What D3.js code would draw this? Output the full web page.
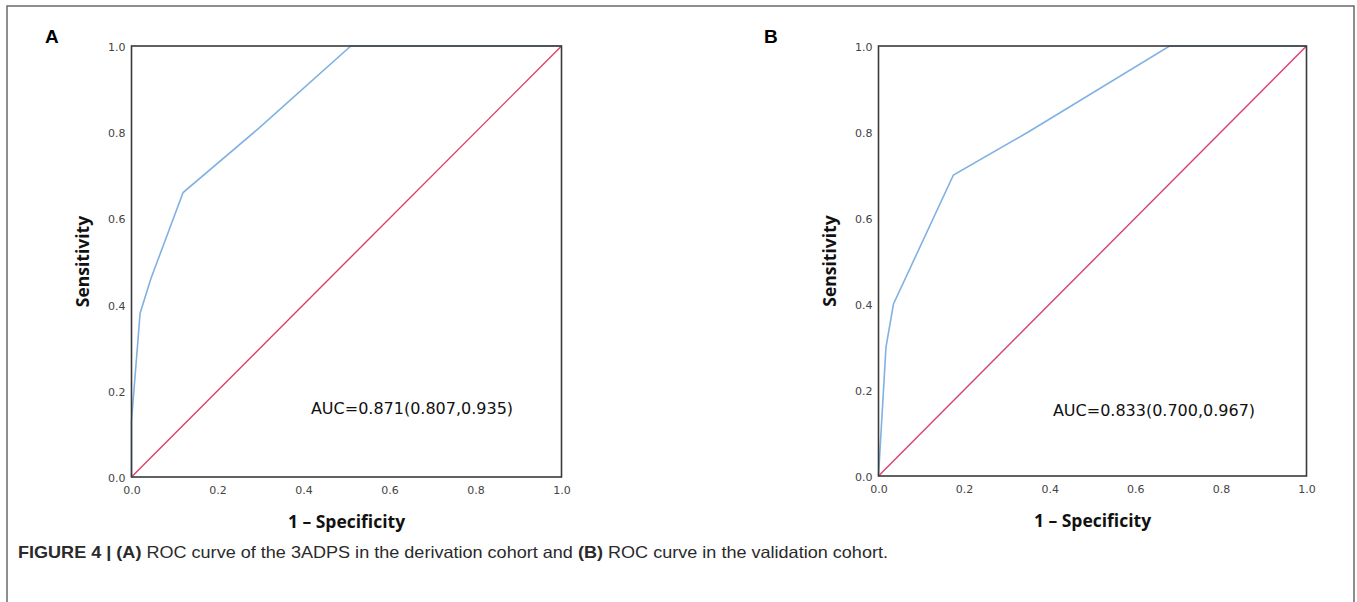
<!DOCTYPE html>
<html>
<head>
<meta charset="utf-8">
<script src="https://cdn.jsdelivr.net/npm/d3@7"></script>
<style>
  body { margin: 0; background: #fff; }
  svg { display: block; }
</style>
</head>
<body>
<svg id="chart"></svg>
<script>
// ROC points: [1 - specificity, sensitivity]
const rocA = [[0, 0], [0, 0.13], [0.02, 0.38], [0.045, 0.46], [0.12, 0.66], [0.297, 0.81], [0.51, 1.0], [1, 1]];
const rocB = [[0, 0], [0.0175, 0.3], [0.035, 0.4], [0.175, 0.7], [0.35, 0.8], [0.68, 1.0], [1, 1]];
const reference = [[0, 0], [1, 1]];
const ticks = [0, 0.2, 0.4, 0.6, 0.8, 1.0];
const aucLabels = ["AUC=0.871(0.807,0.935)", "AUC=0.833(0.700,0.967)"];
const panelLetters = ["A", "B"];

const width = 1357;
const height = 602;

const svg = d3.select("#chart").attr("width", width).attr("height", height);

// figure frame
svg.append("rect")
  .attr("x", 7).attr("y", 6)
  .attr("width", 1347).attr("height", 610)
  .attr("fill", "none")
  .attr("stroke", "#6a6a6a")
  .attr("stroke-width", 1.5);

const panels = [
  { left: 131.5, top: 46, w: 430, h: 431, data: rocA, auc: aucLabels[0], aucX: 412, aucY: 414, letterX: 45 },
  { left: 878.5, top: 46, w: 428, h: 430, data: rocB, auc: aucLabels[1], aucX: 1154, aucY: 416, letterX: 764 }
];

panels.forEach((p, i) => {
  const x = d3.scaleLinear().domain([0, 1]).range([0, p.w]);
  const y = d3.scaleLinear().domain([0, 1]).range([p.h, 0]);
  const g = svg.append("g").attr("transform", `translate(${p.left},${p.top})`);

  const line = d3.line().x((d) => x(d[0])).y((d) => y(d[1]));

  // reference diagonal
  g.append("path")
    .datum(reference)
    .attr("d", line)
    .attr("fill", "none")
    .attr("stroke", "#d8406a")
    .attr("stroke-width", 1.4);

  // ROC curve
  g.append("path")
    .datum(p.data)
    .attr("d", line)
    .attr("fill", "none")
    .attr("stroke", "#80b1e2")
    .attr("stroke-width", 1.6);

  // plot box
  g.append("rect")
    .attr("width", p.w).attr("height", p.h)
    .attr("fill", "none")
    .attr("stroke", "#3a3a3a")
    .attr("stroke-width", 1.6);

  const fmt = d3.format(".1f");
  const xAxis = g.append("g")
    .attr("transform", `translate(0,${p.h})`)
    .call(d3.axisBottom(x).tickValues(ticks).tickFormat(fmt).tickSize(0).tickPadding(9));
  const yAxis = g.append("g")
    .call(d3.axisLeft(y).tickValues(ticks).tickFormat(fmt).tickSize(0).tickPadding(6));
  [xAxis, yAxis].forEach((a) => {
    a.select(".domain").remove();
    a.selectAll("text")
      .attr("fill", "#444")
      .style("font-family", "DejaVu Sans")
      .style("font-size", "11px");
  });
  yAxis.selectAll("text").attr("dy", "0.4em");

  // axis titles
  g.append("text")
    .attr("x", p.w / 2)
    .attr("y", p.h + 51)
    .attr("text-anchor", "middle")
    .style("font-family", "Open Sans")
    .style("font-weight", 700)
    .style("font-size", "17.5px")
    .attr("fill", "#111")
    .text("1 \u2013 Specificity");

  g.append("text")
    .attr("transform", `translate(${-43},${p.h / 2}) rotate(-90)`)
    .attr("text-anchor", "middle")
    .style("font-family", "Open Sans")
    .style("font-weight", 700)
    .style("font-size", "17.5px")
    .attr("fill", "#111")
    .text("Sensitivity");

  // AUC annotation
  svg.append("text")
    .attr("x", p.aucX)
    .attr("y", p.aucY)
    .attr("text-anchor", "middle")
    .style("font-family", "DejaVu Sans")
    .style("font-size", "16px")
    .attr("fill", "#111")
    .text(p.auc);

  // panel letter
  svg.append("text")
    .attr("x", p.letterX)
    .attr("y", 43)
    .style("font-family", "Liberation Sans")
    .style("font-weight", 700)
    .style("font-size", "19px")
    .attr("fill", "#000")
    .text(panelLetters[i]);
});

// caption
const cap = svg.append("text")
  .attr("x", 18)
  .attr("y", 558)
  .attr("textLength", 870)
  .attr("lengthAdjust", "spacingAndGlyphs")
  .style("font-family", "Liberation Sans")
  .style("font-size", "16.5px")
  .attr("fill", "#2a2a2a");
cap.append("tspan").style("font-weight", 700).text("FIGURE 4 | (A)");
cap.append("tspan").text(" ROC curve of the 3ADPS in the derivation cohort and ");
cap.append("tspan").style("font-weight", 700).text("(B)");
cap.append("tspan").text(" ROC curve in the validation cohort.");
</script>
</body>
</html>
